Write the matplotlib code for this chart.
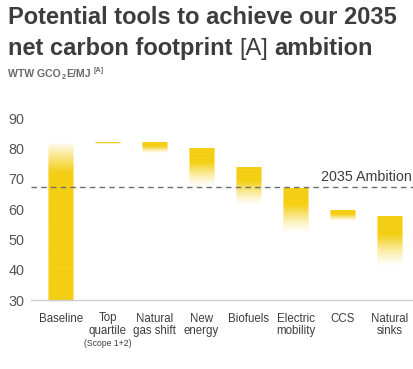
import numpy as np
import matplotlib.pyplot as plt
from matplotlib.colors import to_rgb

plt.rcParams['font.family'] = ['Liberation Sans', 'DejaVu Sans']

# data (gCO2e/MJ)
categories = ["Baseline", "Top\nquartile", "Natural\ngas shift", "New\nenergy",
              "Biofuels", "Electric\nmobility", "CCS", "Natural\nsinks"]
bar_top = [82, 82, 82, 80, 73.5, 67, 59.5, 57.5]
bar_bottom = [30, 81.5, 78.5, 67.5, 61.5, 52.5, 56, 41.5]
ambition = 67.2

YELLOW = "#F4CF14"
EDGE = "#FAE27C"
DARK = "#3d3d3d"

fig = plt.figure(figsize=(4.13, 3.69), dpi=100)
ax = fig.add_axes([31 / 413, 1 - 300 / 369, 1 - 31 / 413, (300 - 112) / 369])
W = fig.bbox.width
H = fig.bbox.height


def alpha_profile(n):
    # fraction 0 = bottom of bar, 1 = top
    f = np.linspace(0, 1, n)
    a = np.clip(f / 0.62, 0, 1) ** 1.3
    return 0.03 + 0.97 * a


width = 0.54
nc = 26
for i, (top, bot) in enumerate(zip(bar_top, bar_bottom)):
    n = 200
    img = np.zeros((n, nc, 4))
    img[:, :, :3] = to_rgb(YELLOW)
    img[:, 0, :3] = to_rgb(EDGE)
    img[:, -1, :3] = to_rgb(EDGE)
    if i == 0:
        # baseline fades upward over its top 10 units
        ys = np.linspace(bot, top, n)
        a = np.clip((top - ys) / 10.0, 0, 1) ** 0.9
    else:
        a = alpha_profile(n)
    img[:, :, 3] = a[:, None]
    ax.imshow(img, extent=(i - width / 2, i + width / 2, bot, top),
              origin='lower', aspect='auto', interpolation='bilinear', zorder=2)

ax.axhline(ambition, color="#6e6e6e", lw=1.0, ls=(0, (4, 3)), zorder=3)
ax.text(7.48, ambition + 0.9, "2035 Ambition", ha='right', va='bottom',
        fontsize=10.3, color=DARK, zorder=4)

ax.set_xlim(-0.63, 7.5)
ax.set_ylim(30, 92)
ax.set_yticks([30, 40, 50, 60, 70, 80, 90])
ax.set_xticks(range(len(categories)))
ax.set_xticklabels(categories, fontsize=8.3, color=DARK, linespacing=1.05)
ax.tick_params(axis='y', length=0, pad=5, labelsize=10.4, labelcolor="#555555")
ax.tick_params(axis='x', length=0, pad=9)
for s in ['top', 'right', 'left']:
    ax.spines[s].set_visible(False)
ax.spines['bottom'].set_color("#cccccc")
ax.spines['bottom'].set_linewidth(1.0)
ax.set_facecolor('none')

ax.annotate("(Scope 1+2)", xy=(1, 0), xycoords=('data', 'axes fraction'),
            xytext=(0, -28), textcoords='offset points', ha='center', va='top',
            fontsize=6.2, color=DARK)

renderer = fig.canvas.get_renderer()


def chain(x_px, y_px, pieces):
    # dy: pixels upward from the baseline
    for s, kw, dy, gap in pieces:
        t = fig.text(x_px / W, (H - y_px + dy) / H, s, ha='left', va='baseline', **kw)
        bb = t.get_window_extent(renderer)
        x_px = bb.x1 + gap


tfs = 17.0
space = 0.278 * tfs * 100 / 72
bold = dict(fontsize=tfs, fontweight='bold', color=DARK)
norm = dict(fontsize=tfs, color=DARK)
chain(8, 24, [("Potential tools to achieve our 2035", bold, 0, 0)])
chain(8, 55, [("net carbon footprint", bold, 0, space),
              ("[A]", norm, 0, space),
              ("ambition", bold, 0, 0)])

sub = dict(fontsize=7.6, fontweight='bold', color="#6a6a6a")
small = dict(fontsize=5.2, fontweight='bold', color="#6a6a6a")
chain(8.5, 77, [("WTW GCO", sub, 0, 0.3),
                ("2", small, -2, 0.3),
                ("E/MJ", sub, 0, 3),
                ("[A]", small, 5, 0)])

fig.savefig("out.png", dpi=100)
